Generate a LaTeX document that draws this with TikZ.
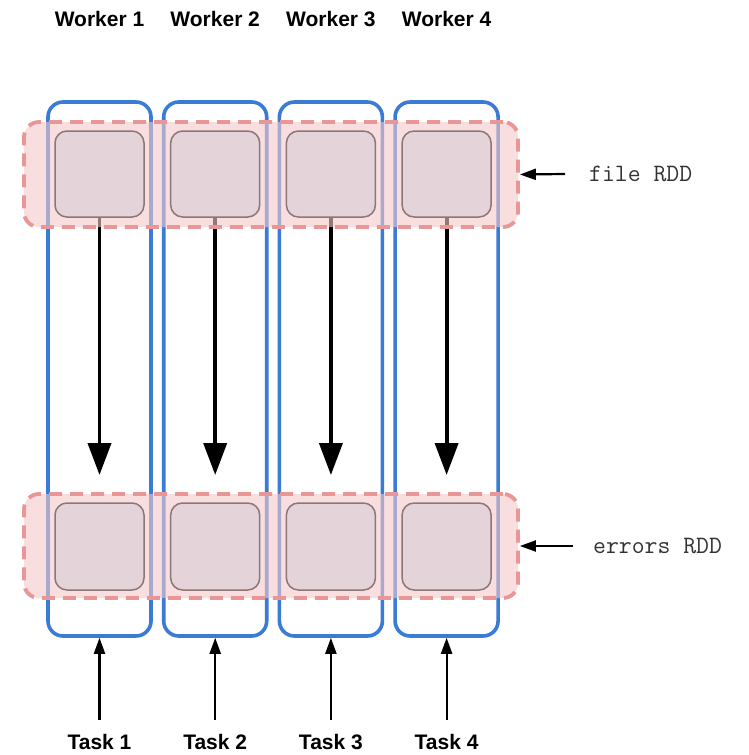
\documentclass[tikz,border=0pt]{standalone}
\usepackage{fontspec}
\setmainfont{Liberation Sans}
\usetikzlibrary{arrows.meta}
\definecolor{wblue}{RGB}{58,123,213}
\definecolor{bandfill}{RGB}{244,200,200}
\definecolor{banddash}{RGB}{232,150,150}
\definecolor{partfill}{RGB}{228,212,218}
\definecolor{partdraw}{RGB}{140,118,118}
\tikzset{
  worker/.style={draw=wblue, line width=3.6pt, rounded corners=15pt, minimum width=103pt, minimum height=534pt, inner sep=0pt},
  band/.style={fill=bandfill, fill opacity=0.6, draw=banddash, draw opacity=1, line width=3.8pt, dash pattern=on 13pt off 8pt, rounded corners=15pt, minimum width=494pt, inner sep=0pt},
  part/.style={fill=partfill, draw=partdraw, line width=1.5pt, rounded corners=12pt, minimum width=89pt, inner sep=0pt},
  wlabel/.style={font=\fontsize{21}{24}\selectfont\bfseries, inner sep=0pt},
  rddlabel/.style={font=\fontsize{25}{27}\selectfont\ttfamily, text=black!80, anchor=west, inner sep=0pt},
  bigarrow/.style={line width=3.8pt, -{Triangle[length=32pt,width=23pt]}},
  thinarrow/.style={line width=2.2pt, -{Triangle[length=16pt,width=11pt]}},
}
\begin{document}
\begin{tikzpicture}[x=1pt,y=-1pt]
\useasboundingbox (0,0) rectangle (748,755);
% workers
\foreach \i/\x in {1/99.5,2/215.2,3/330.9,4/446.6}{
  \node[worker] (w\i) at (\x,369) {};
  \node[wlabel] (wl\i) at (\x,19) {Worker \i};
  \coordinate (tip\i) at (\x,475);
  \node[wlabel, anchor=north, text height=15pt, text depth=0pt] (task\i) at (\x,734) {Task \i};
  \coordinate (tb\i) at (\x,720);
}
% big arrows (under the band fill)
\foreach \i/\x in {1/99.5,2/215.2,3/330.9,4/446.6}{
  \coordinate (ts\i) at (\x,217);
  \draw[bigarrow] (ts\i) -- (tip\i);
}
% bands
\node[band, minimum height=105pt] (file) at (271,174.5) {};
\node[band, minimum height=104pt] (errors) at (271,546) {};
% partitions
\foreach \i/\x in {1/99.5,2/215.2,3/330.9,4/446.6}{
  \node[part, minimum height=86pt] (fp\i) at (\x,174) {};
  \node[part, minimum height=87pt] (ep\i) at (\x,546.5) {};
}
% task arrows
\foreach \i in {1,2,3,4}{
  \draw[thinarrow] (tb\i) -- (w\i.south);
}
% labels right
\node[rddlabel] (fl) at (589,174) {file RDD};
\node[rddlabel] (el) at (593,546) {errors RDD};
\coordinate (fa) at (565,174);
\coordinate (ea) at (573,546);
\draw[thinarrow] (fa) -- (file.east);
\draw[thinarrow] (ea) -- (errors.east);
\end{tikzpicture}
\end{document}
